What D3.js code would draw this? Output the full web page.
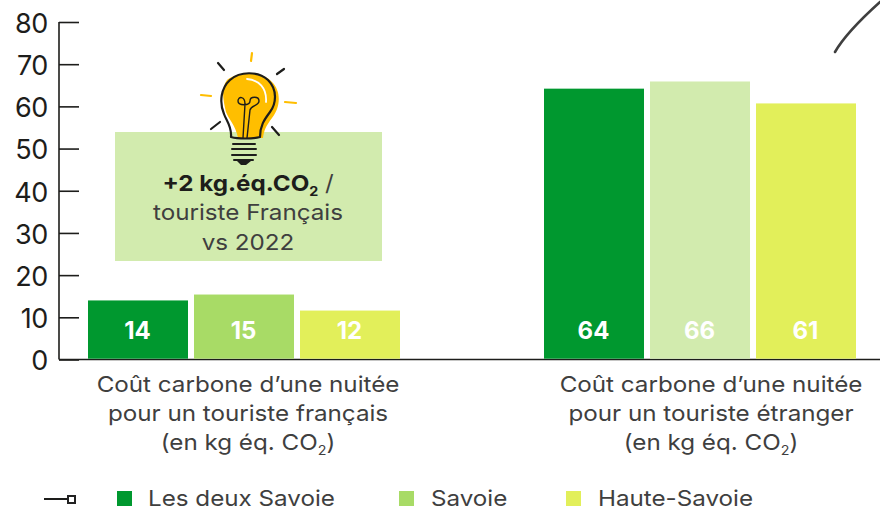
<!DOCTYPE html>
<html><head><meta charset="utf-8">
<script src="https://cdn.jsdelivr.net/npm/d3@7"></script>
<style>
html,body{margin:0;background:#fff}
svg{display:block}
text{font-family:Inter,"Open Sans",sans-serif}
</style></head><body><div id="c"></div>
<script>
const groups = ["fr","etr"];
const seriesNames = ["Les deux Savoie","Savoie","Haute-Savoie"];
const valuesFr = [14,15.4,11.6];
const valuesEtr = [64.2,65.9,60.7];
const labelsFr = ["14","15","12"];
const labelsEtr = ["64","66","61"];
const yTicks = [0,10,20,30,40,50,60,70,80];
const colorsFr = ["#00982F","#A8DB66","#E2EF5A"];
const colorsEtr = ["#00982F","#D2EBAE","#E2EF5A"];
const legendColors = ["#00982F","#A8DB66","#E2EF5A"];
const captionFr = ["Coût carbone d’une nuitée","pour un touriste français"];
const captionEtr = ["Coût carbone d’une nuitée","pour un touriste étranger"];
const calloutLines = ["touriste Français","vs 2022"];
const ink = "#1d1d1b", grey = "#3f3f3f";
const wide = 1.1;

const svg = d3.select("#c").append("svg").attr("width",880).attr("height",512);
const y = d3.scaleLinear().domain([0,80]).range([359.5,22]);
const x0 = d3.scaleBand().domain(groups).range([88,856]).paddingInner(144/456);
const x1 = d3.scaleBand().domain(seriesNames).range([0,x0.bandwidth()]).paddingInner(6/106);

// horizontally widened text, closer to the reference's wide geometric face
function wideText(px,py,size,anchor,fill){
  return svg.append("g").attr("transform",`translate(${px},${py}) scale(${wide},1)`)
    .append("text").attr("text-anchor",anchor).attr("font-size",size).attr("fill",fill);
}

// axis
const axis = d3.axisRight(y).tickValues(yTicks).tickSize(20).tickFormat("");
const ga = svg.append("g").attr("transform","translate(59,0)").call(axis);
ga.selectAll("path").attr("stroke",ink).attr("stroke-width",1.6).attr("d",`M0,${y(80)}V${y(0)}`);
ga.selectAll("line").attr("stroke",ink).attr("stroke-width",1.6);
svg.append("g").selectAll("text").data(yTicks).join("text")
  .attr("x",48).attr("y",d=>y(d)+3.5).attr("text-anchor","end").attr("dominant-baseline","middle")
  .attr("font-size",27).attr("letter-spacing",-0.4).attr("fill",ink).text(d=>d);
svg.append("line").attr("x1",59).attr("x2",880).attr("y1",y(0)).attr("y2",y(0)).attr("stroke",ink).attr("stroke-width",1.6);

// bars
const rows = [
 {g:"fr",vals:valuesFr,labs:labelsFr,cols:colorsFr},
 {g:"etr",vals:valuesEtr,labs:labelsEtr,cols:colorsEtr}];
rows.forEach(r=>{
  const g = svg.append("g").attr("transform",`translate(${x0(r.g)},0)`);
  g.selectAll("rect").data(r.vals).join("rect")
    .attr("x",(d,i)=>x1(seriesNames[i])).attr("width",x1.bandwidth())
    .attr("y",d=>y(d)).attr("height",d=>y(0)-y(d)-0.8).attr("fill",(d,i)=>r.cols[i]);
  g.selectAll("text").data(r.labs).join("text")
    .attr("x",(d,i)=>x1(seriesNames[i])+x1.bandwidth()/2-0.5).attr("y",339)
    .attr("text-anchor","middle").attr("font-size",24).attr("font-weight",700).attr("fill","#fff").text(d=>d);
});

// callout
svg.append("rect").attr("x",115).attr("y",132).attr("width",267).attr("height",129).attr("fill","#D2EBAE");
const t = wideText(248,191,22,"middle",ink);
t.append("tspan").attr("font-weight",700).text("+2 kg.éq.CO");
t.append("tspan").attr("font-weight",700).attr("font-size",13).attr("dy",5).text("2");
t.append("tspan").attr("dy",-5).attr("dx",6).attr("fill",grey).text("/");
calloutLines.forEach((d,i)=>wideText(248,220+i*30,22,"middle",grey).text(d));

// bulb
const b = svg.append("g");
const line = (x1,y1,x2,y2,c,w)=>b.append("line").attr("x1",x1).attr("y1",y1).attr("x2",x2).attr("y2",y2).attr("stroke",c).attr("stroke-width",w||2.2).attr("stroke-linecap","round");
[[252,53,251,61],[201,95,211,96],[285,102,296,103]].forEach(a=>line(...a,"#FFBE00"));
[[218,63,224,70],[277,74,284,69],[211,129,220,122],[272,127,279,135]].forEach(a=>line(...a,"#1d1d1b"));
b.append("path").attr("fill","#FFBE00").attr("d","M227,80C238,71 262,71 272,82C282,92 280,108 272,118C266,126 264,130 263,138L238,138C236,126 228,118 226,112C223,100 221,88 227,80Z");
b.append("path").attr("fill","none").attr("stroke",ink).attr("stroke-width",2.2).attr("stroke-linejoin","round")
 .attr("d","M231,137C232,126 226,120 224,114C219,102 221,88 230,80C240,71 258,71 268,80C278,90 276,104 270,112C264,120 260,126 260,137C252,139 238,139 231,137Z");
b.append("path").attr("fill","none").attr("stroke","#fff").attr("stroke-width",1.8).attr("stroke-linecap","round").attr("d","M247,79C259,80 267,88 266,102");
b.append("path").attr("fill","none").attr("stroke",ink).attr("stroke-width",1.4)
 .attr("d","M243,138L245,104C245,96 238,96 238,101C238,106 250,106 250,101C250,96 259,96 259,101C259,106 251,105 250,110L247,138");
b.append("path").attr("fill","none").attr("stroke",ink).attr("stroke-width",2).attr("stroke-linecap","round")
 .attr("d","M233,144H255M232,149H256M232,155H256M234,160H253");
b.append("path").attr("fill",ink).attr("d","M237,161H251L246,165H241Z");

// captions
[[248,captionFr],[711,captionEtr]].forEach(([cx,lines])=>{
  lines.forEach((d,i)=>wideText(cx,392+i*29,22,"middle",grey).text(d));
  const c = wideText(cx,450,22,"middle",grey);
  c.append("tspan").text("(en kg éq. CO");
  c.append("tspan").attr("font-size",13).attr("dy",5).text("2");
  c.append("tspan").attr("dy",-5).text(")");
});

// legend
svg.append("line").attr("x1",44).attr("x2",68).attr("y1",499).attr("y2",499).attr("stroke",ink).attr("stroke-width",2);
svg.append("rect").attr("x",68).attr("y",496).attr("width",7).attr("height",7).attr("fill","#fff").attr("stroke","#222").attr("stroke-width",2);
const lx = [117,399,566], ltx = [148,431,598];
svg.append("g").selectAll("rect").data(seriesNames).join("rect")
  .attr("x",(d,i)=>lx[i]).attr("y",491).attr("width",15).attr("height",15).attr("fill",(d,i)=>legendColors[i]);
seriesNames.forEach((d,i)=>wideText(ltx[i],506,22,"start",grey).text(d));

// fragment of curve top right
svg.append("path").attr("fill","none").attr("stroke",grey).attr("stroke-width",2.6).attr("stroke-linecap","round").attr("d","M835,52C843,38 860,20 880,2");
</script></body></html>
